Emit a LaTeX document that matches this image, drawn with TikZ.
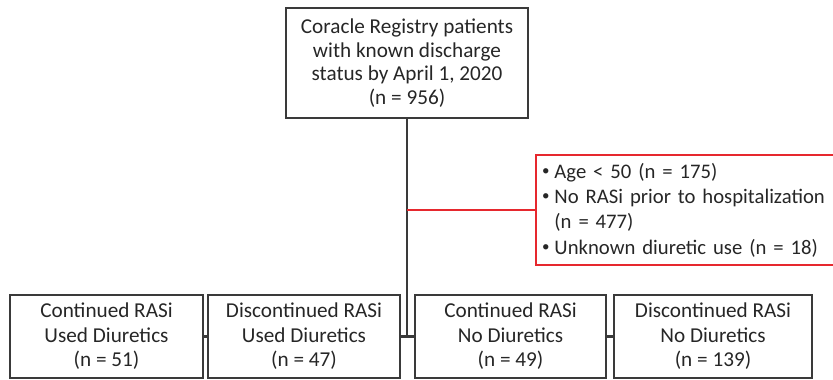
\documentclass[tikz,border=0pt]{standalone}
\usepackage{fontspec}
\setmainfont{Carlito}
\usepackage{tikz}

\definecolor{boxgray}{HTML}{3A3A3A}
\definecolor{txtgray}{HTML}{262626}
\definecolor{exred}{HTML}{E6282E}

\newcommand{\exbullet}{\raisebox{2.5pt}{\fontsize{15}{15}\selectfont\textbullet}\hspace{5pt}}

\tikzset{
    flowbox/.style={draw=boxgray, line width=2.6pt, text=txtgray, align=center,
        inner sep=2pt, font=\fontsize{21.2}{23.6}\selectfont},
    lowbox/.style={flowbox, minimum height=83pt, font=\fontsize{21.2}{24.5}\selectfont},
    flowline/.style={draw=boxgray, line width=2.6pt},
    exbox/.style={draw=exred, line width=2pt, text=txtgray, align=left,
        text width=300pt, inner xsep=6pt, minimum height=110pt,
        font=\fontsize{20.7}{25.3}\selectfont},
    exline/.style={draw=exred, line width=2pt}
}

\begin{document}
\begin{tikzpicture}[x=1pt,y=-1pt]
    \useasboundingbox (0,0) rectangle (833,380);
    \clip (0,0) rectangle (833,380);

    % top box
    \node[flowbox, minimum width=242pt, minimum height=110pt] (registry) at (407,63)
        {Coracle Registry patients\\with known discharge\\status by April 1, 2020\\(n = 956)};

    % bottom boxes
    \node[lowbox, minimum width=193pt] (contdiur) at (106.5,336.5)
        {Continued RASi\\Used Diuretics\\(n = 51)};
    \node[lowbox, minimum width=192pt] (discdiur) at (304,336.5)
        {Discontinued RASi\\Used Diuretics\\(n = 47)};
    \node[lowbox, minimum width=191pt] (contnodiur) at (510.5,336.5)
        {Continued RASi\\No Diuretics\\(n = 49)};
    \node[lowbox, minimum width=198pt] (discnodiur) at (713,336.5)
        {Discontinued RASi\\No Diuretics\\(n = 139)};

    % exclusion box
    \node[exbox, anchor=west] (excluded) at (535,210)
        {\exbullet Age < 50 (n = 175)\\
         \exbullet No RASi prior to hospitalization\\
         \phantom{\exbullet}(n = 477)\\
         \exbullet Unknown diuretic use (n = 18)};

    % connectors
    \coordinate (split) at (registry.south |- discdiur.east);
    \coordinate (exit) at (registry.south |- excluded.west);
    \draw[flowline] (registry.south) -- (split);
    \draw[flowline] (contdiur.east) -- (discdiur.west);
    \draw[flowline] (discdiur.east) -- (contnodiur.west);
    \draw[flowline] (contnodiur.east) -- (discnodiur.west);
    \draw[exline] (exit) -- (excluded.west);
\end{tikzpicture}
\end{document}
